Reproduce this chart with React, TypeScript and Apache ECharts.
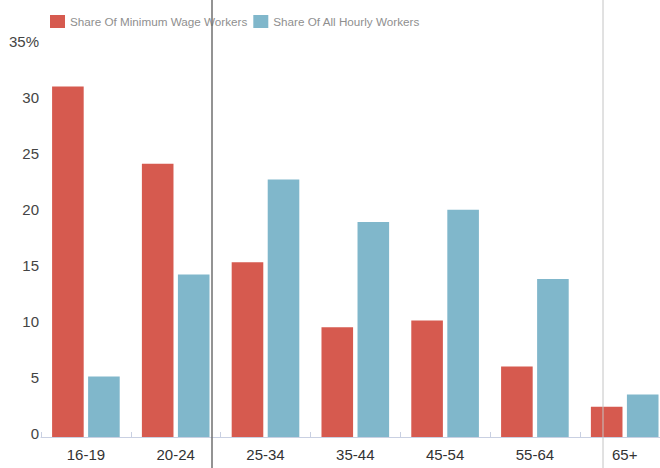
import React, { useEffect, useRef } from "react";
import * as echarts from "echarts";

const categories = ["16-19", "20-24", "25-34", "35-44", "45-54", "55-64", "65+"];
const minimumWageShare = [31.3, 24.4, 15.6, 9.8, 10.4, 6.3, 2.7];
const hourlyShare = [5.4, 14.5, 23.0, 19.2, 20.3, 14.1, 3.8];
const seriesNames = ["Share Of Minimum Wage Workers", "Share Of All Hourly Workers"];

export default function App() {
  const ref = useRef<HTMLDivElement>(null);
  useEffect(() => {
    if (!ref.current) return;
    const chart = echarts.init(ref.current, undefined, { renderer: "svg" });
    const font = '"Liberation Sans Narrow", "Liberation Sans", Arial, sans-serif';
    chart.setOption({
      animation: false,
      backgroundColor: "#ffffff",
      legend: {
        left: 45,
        top: 10,
        itemWidth: 15,
        itemHeight: 13,
        itemGap: 6,
        icon: "rect",
        textStyle: { fontSize: 11.7, color: "#8f8f8f", fontFamily: '"Liberation Sans", Arial, sans-serif' },
        data: seriesNames,
      },
      grid: { left: 41, top: 45, width: 628.6, bottom: 31, containLabel: false },
      xAxis: {
        type: "category",
        data: categories,
        axisLine: { lineStyle: { color: "#c9d0e2", width: 1 } },
        axisTick: { show: true, inside: true, length: 5, lineStyle: { color: "#c9d0e2" } },
        axisLabel: { fontSize: 15, color: "#333", fontFamily: font, margin: 10 },
      },
      yAxis: {
        type: "value",
        min: 0,
        max: 35,
        interval: 5,
        axisLine: { show: false },
        axisTick: { show: false },
        splitLine: { show: false },
        axisLabel: {
          fontSize: 15,
          color: "#444",
          fontFamily: font,
          margin: 2,
          verticalAlign: "bottom",
          lineHeight: 7,
          formatter: (v: number) => (v === 35 ? "35%" : String(v)),
        },
      },
      series: [
        {
          name: seriesNames[0],
          type: "bar",
          data: minimumWageShare,
          barWidth: 31.6,
          barGap: "14%",
          itemStyle: { color: "#d65a4f" },
        },
        {
          name: seriesNames[1],
          type: "bar",
          data: hourlyShare,
          barWidth: 31.6,
          barGap: "14%",
          itemStyle: { color: "#80b7cb" },
        },
      ],
      graphic: [
        { type: "line", shape: { x1: 212, y1: 0, x2: 212, y2: 468 }, style: { stroke: "#6f6f6f", lineWidth: 1.5 }, z: 100 },
        { type: "line", shape: { x1: 603, y1: 0, x2: 603, y2: 468 }, style: { stroke: "#c4c4c4", lineWidth: 1 }, z: 100 },
      ],
    });
    return () => chart.dispose();
  }, []);
  return (
    <div style={{ position: "absolute", left: 0, top: 0, width: 660, height: 468, overflow: "hidden" }}>
      <div ref={ref} style={{ width: 672, height: 468 }} />
    </div>
  );
}
